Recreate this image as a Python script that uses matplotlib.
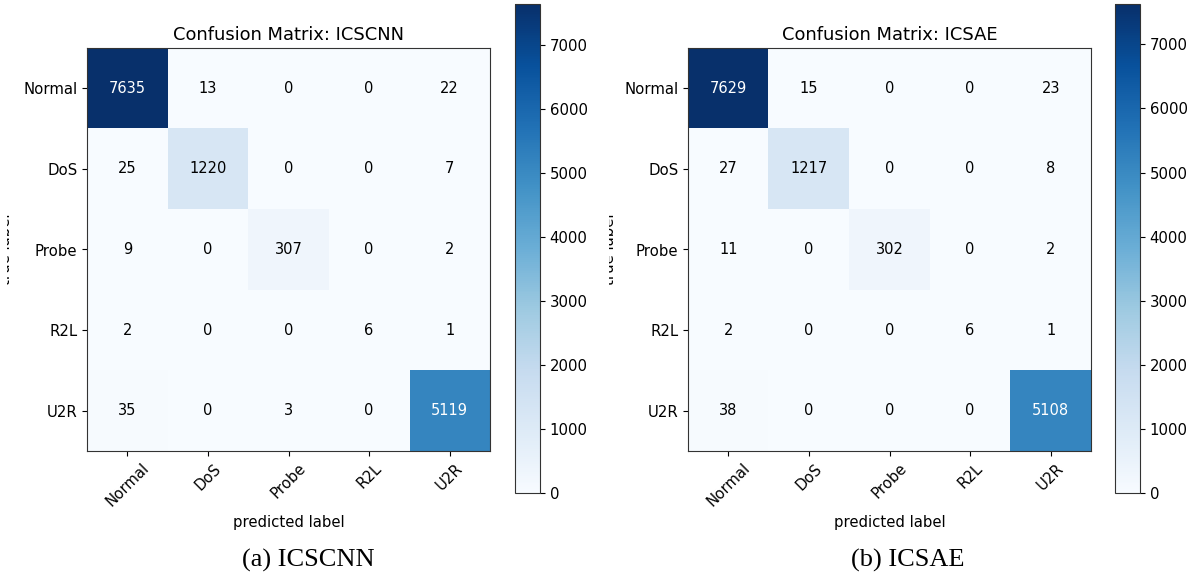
import numpy as np
import matplotlib
matplotlib.use("Agg")
import matplotlib.pyplot as plt
from matplotlib.patches import Rectangle

classes = ["Normal", "DoS", "Probe", "R2L", "U2R"]
cm_cnn = [[7635, 13, 0, 0, 22],
          [25, 1220, 0, 0, 7],
          [9, 0, 307, 0, 2],
          [2, 0, 0, 6, 1],
          [35, 0, 3, 0, 5119]]
cm_sae = [[7629, 15, 0, 0, 23],
          [27, 1217, 0, 0, 8],
          [11, 0, 302, 0, 2],
          [2, 0, 0, 6, 1],
          [38, 0, 0, 0, 5108]]
titles = ["Confusion Matrix: ICSCNN", "Confusion Matrix: ICSAE"]
captions = ["(a) ICSCNN", "(b) ICSAE"]

W, H = 1193, 579
fig = plt.figure(figsize=(W / 100, H / 100), dpi=100)
fs = 10.7

def fx(px):
    return px / W

def fy(py):
    return 1 - py / H

panels = [
    dict(cm=cm_cnn, ax_x=87, cb_x=515, cap_x=308, lbl=-0.1824),
    dict(cm=cm_sae, ax_x=688, cb_x=1115, cap_x=908, lbl=-0.1774),
]

for i, p in enumerate(panels):
    cm = np.array(p["cm"])
    ax = fig.add_axes([fx(p["ax_x"]), fy(451), 403 / W, 403 / H])
    im = ax.imshow(cm, interpolation="nearest", cmap=plt.cm.Blues, aspect="auto")
    ax.set_title(titles[i], fontsize=12.9, pad=6)
    ticks = np.arange(len(classes))
    ax.set_xticks(ticks)
    ax.set_xticklabels(classes, rotation=45, fontsize=fs)
    ax.set_yticks(ticks)
    ax.set_yticklabels(classes, fontsize=fs)
    thresh = cm.max() / 2.0
    for r in range(cm.shape[0]):
        for c in range(cm.shape[1]):
            ax.text(c, r, str(cm[r, c]), ha="center", va="center", fontsize=10.5,
                    color="white" if cm[r, c] > thresh else "black")
    ax.set_xlabel("predicted label", fontsize=fs)
    ax.set_ylabel("true label", fontsize=fs)
    ax.yaxis.set_label_coords(p["lbl"], 0.5)
    for s in ax.spines.values():
        s.set_color("#333333")
    cax = fig.add_axes([fx(p["cb_x"]), fy(493), 25 / W, 489 / H])
    cb = fig.colorbar(im, cax=cax)
    cb.ax.tick_params(labelsize=fs)
    cb.outline.set_edgecolor("#333333")
    fig.text(fx(p["cap_x"]), fy(560), captions[i], ha="center", va="center",
             fontsize=19, family="Liberation Serif")

# the reference shows only a thin sliver of each y-axis label
fig.add_artist(Rectangle((0, 0), fx(7), 1, transform=fig.transFigure,
                         facecolor="white", edgecolor="none", zorder=10))
fig.add_artist(Rectangle((fx(592), 0), fx(609) - fx(592), 1, transform=fig.transFigure,
                         facecolor="white", edgecolor="none", zorder=10))

fig.savefig("out.png", dpi=100)
